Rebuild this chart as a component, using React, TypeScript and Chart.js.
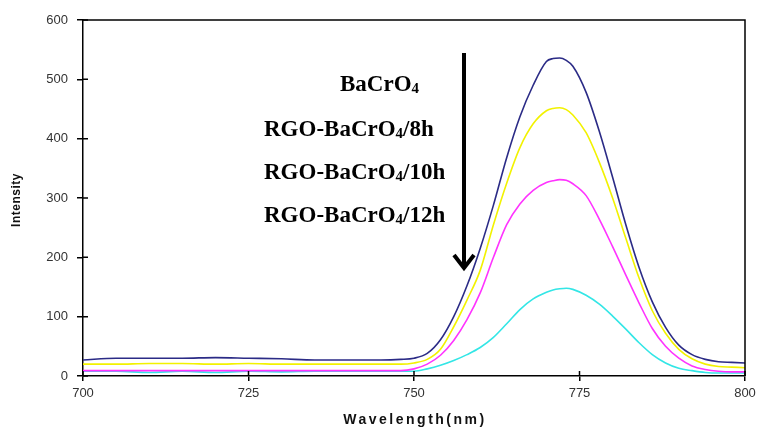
import React, { useEffect, useRef } from 'react';
import { Chart, registerables } from 'chart.js';

Chart.register(...registerables);

const wavelengths = [700, 705, 710, 715, 720, 725, 730, 735, 740, 745, 748, 750, 752, 754, 756, 758, 760, 762, 764, 766, 768, 770, 771, 772, 773, 774, 776, 778, 780, 782, 784, 786, 788, 790, 792, 794, 796, 798, 800];

const bacro4 = [27, 30, 30, 30, 31, 30, 29, 27, 27, 27, 28, 30, 38, 61, 100, 152, 215, 288, 368, 437, 490, 530, 535, 536, 532, 522, 478, 412, 335, 255, 183, 125, 82, 52, 36, 28, 24, 23, 22];
const rgo8h = [20, 20, 21, 21, 20, 21, 20, 20, 20, 20, 20, 22, 28, 45, 83, 128, 178, 255, 325, 385, 425, 447, 451, 452, 449, 440, 410, 360, 300, 232, 165, 110, 72, 45, 29, 20, 16, 15, 14];
const rgo10h = [9, 9, 9, 9, 9, 9, 9, 9, 9, 9, 9, 12, 20, 35, 60, 95, 140, 200, 255, 290, 313, 326, 329, 331, 330, 324, 304, 264, 218, 170, 123, 80, 50, 30, 17, 11, 8, 7, 7];
const rgo12h = [8, 8, 6, 8, 6, 8, 7, 8, 8, 8, 8, 8, 12, 18, 26, 36, 48, 65, 88, 112, 130, 141, 145, 147, 148, 146, 136, 121, 101, 79, 56, 36, 22, 13, 9, 6, 5, 5, 5];

const seriesLabels = ['BaCrO₄', 'RGO-BaCrO₄/8h', 'RGO-BaCrO₄/10h', 'RGO-BaCrO₄/12h'];
const seriesColors = ['#2b2b86', '#f2f200', '#ff33ff', '#33e6e6'];
const xTicks = [700, 725, 750, 775, 800];
const yTicks = [0, 100, 200, 300, 400, 500, 600];
const xTitle = 'Wavelength(nm)';
const yTitle = 'Intensity';

const labelPositions = [
  { x: 340, y: 91 },
  { x: 264, y: 136 },
  { x: 264, y: 179 },
  { x: 264, y: 222 },
];

function drawSubText(ctx: CanvasRenderingContext2D, text: string, x: number, y: number) {
  const parts = text.split('₄');
  let cx = x;
  parts.forEach((p, i) => {
    ctx.font = 'bold 23px "Liberation Serif"';
    ctx.fillText(p, cx, y);
    cx += ctx.measureText(p).width;
    if (i < parts.length - 1) {
      ctx.font = 'bold 15px "Liberation Serif"';
      ctx.fillText('4', cx, y + 2);
      cx += ctx.measureText('4').width;
    }
  });
}

const decorPlugin = {
  id: 'decor',
  afterDraw(chart: any) {
    const { ctx, chartArea } = chart;
    const { left, right, top, bottom } = chartArea;
    const xs = chart.scales.x;
    const ys = chart.scales.y;
    ctx.save();
    ctx.strokeStyle = '#000';
    ctx.lineWidth = 1.5;
    // frame
    ctx.beginPath();
    ctx.moveTo(left, top);
    ctx.lineTo(right, top);
    ctx.lineTo(right, bottom);
    ctx.stroke();
    // inner tick marks
    ctx.beginPath();
    yTicks.forEach((v) => {
      const py = ys.getPixelForValue(v);
      ctx.moveTo(left, py);
      ctx.lineTo(left + 5, py);
    });
    xTicks.forEach((v) => {
      const px = xs.getPixelForValue(v);
      ctx.moveTo(px, bottom);
      ctx.lineTo(px, bottom - 5);
    });
    ctx.stroke();

    // titles
    ctx.fillStyle = '#111';
    ctx.textAlign = 'center';
    ctx.textBaseline = 'middle';
    ctx.font = 'bold 14px "Liberation Sans"';
    (ctx as any).letterSpacing = '2.5px';
    ctx.fillText(xTitle, (left + right) / 2 + 1, 420);
    (ctx as any).letterSpacing = '0.5px';
    ctx.save();
    ctx.translate(17, (top + bottom) / 2 + 2);
    ctx.rotate(-Math.PI / 2);
    ctx.font = 'bold 12px "Liberation Sans"';
    ctx.fillText(yTitle, 0, 0);
    ctx.restore();
    (ctx as any).letterSpacing = '0px';

    // legend labels
    ctx.fillStyle = '#000';
    ctx.textAlign = 'left';
    ctx.textBaseline = 'alphabetic';
    seriesLabels.forEach((t, i) => {
      drawSubText(ctx, t, labelPositions[i].x, labelPositions[i].y);
    });

    // arrow
    ctx.strokeStyle = '#000';
    ctx.lineWidth = 4;
    ctx.lineCap = 'butt';
    ctx.beginPath();
    ctx.moveTo(464, 53);
    ctx.lineTo(464, 267);
    ctx.stroke();
    ctx.lineJoin = 'miter';
    ctx.beginPath();
    ctx.moveTo(454, 255);
    ctx.lineTo(464, 268);
    ctx.lineTo(474, 255);
    ctx.stroke();
    ctx.restore();
  },
};

export default function App() {
  const ref = useRef<HTMLCanvasElement | null>(null);
  useEffect(() => {
    if (!ref.current) return;
    const seriesData = [bacro4, rgo8h, rgo10h, rgo12h];
    const chart = new Chart(ref.current, {
      type: 'line',
      data: {
        datasets: seriesData.map((vals, i) => ({
          label: seriesLabels[i],
          data: wavelengths.map((w, j) => ({ x: w, y: vals[j] })),
          borderColor: seriesColors[i],
          backgroundColor: seriesColors[i],
          borderWidth: 1.6,
          pointRadius: 0,
          cubicInterpolationMode: 'monotone' as const,
          fill: false,
        })),
      },
      options: {
        responsive: false,
        animation: false,
        layout: { padding: { left: 0, top: 20, right: 18, bottom: 0 } },
        plugins: { legend: { display: false }, tooltip: { enabled: false } },
        scales: {
          x: {
            type: 'linear',
            min: 700,
            max: 800,
            afterBuildTicks: (s: any) => { s.ticks = xTicks.map((v) => ({ value: v })); },
            ticks: { color: '#333', font: { family: 'Liberation Sans', size: 13 }, padding: 5 },
            grid: { drawOnChartArea: false, tickLength: 5, color: '#000', lineWidth: 1.5 },
            border: { color: '#000', width: 1.5 },
            afterFit: (s: any) => { s.height = 53; },
          },
          y: {
            min: 0,
            max: 600,
            afterBuildTicks: (s: any) => { s.ticks = yTicks.map((v) => ({ value: v })); },
            ticks: { color: '#333', font: { family: 'Liberation Sans', size: 13 }, padding: 9 },
            grid: { drawOnChartArea: false, tickLength: 6, color: '#000', lineWidth: 1.5 },
            border: { color: '#000', width: 1.5 },
            afterFit: (s: any) => { s.width = 83; },
          },
        },
      },
      plugins: [decorPlugin],
    });
    return () => chart.destroy();
  }, []);
  return (
    <div style={{ position: 'absolute', left: 0, top: 0, width: 763, height: 429, background: '#fff' }}>
      <canvas ref={ref} width={763} height={429} />
    </div>
  );
}
